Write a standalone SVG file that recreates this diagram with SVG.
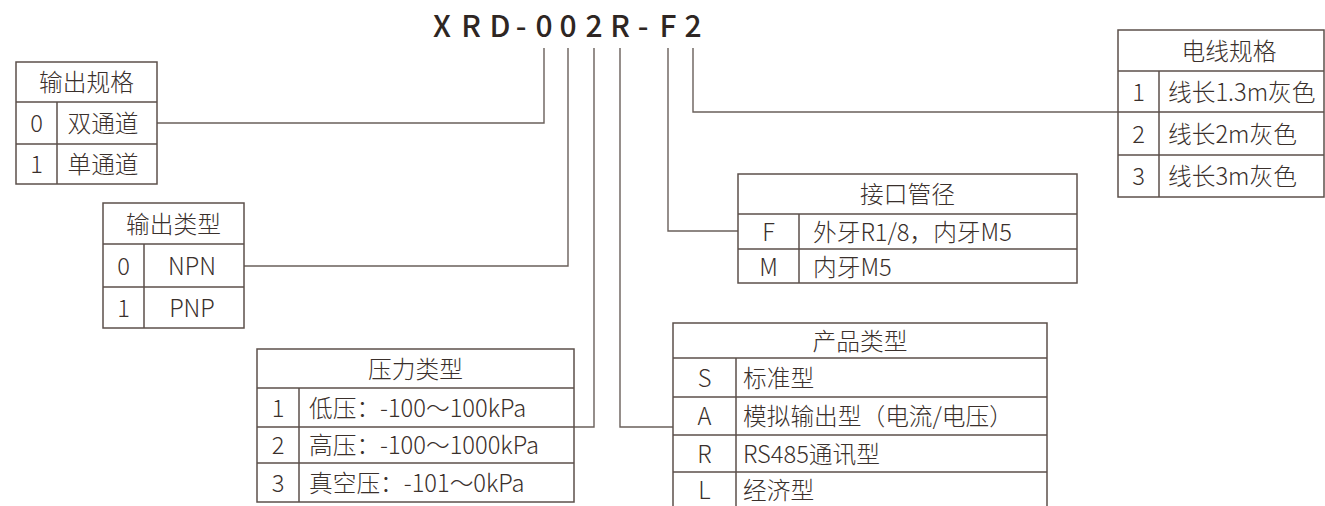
<svg xmlns="http://www.w3.org/2000/svg" width="1325" height="506" viewBox="0 0 1325 506">
<style>
.b{fill:none;stroke:#5c504b;stroke-width:1.5}
.c{fill:none;stroke:#6a605b;stroke-width:1.4}
.t{font-family:"Noto Sans CJK SC","Noto Sans",sans-serif;font-size:23.7px;font-weight:300;fill:#3a302c}
.m{text-anchor:middle}
.title{font-family:"Noto Sans CJK SC","Noto Sans",sans-serif;font-size:30px;font-weight:500;fill:#2e2623;text-anchor:middle}
</style>
<rect width="1325" height="506" fill="#ffffff"/>
<text class="title" x="442 471 500 521 544 568 594 620 643 668 693" y="37">XRD-002R-F2</text>
<g id="connectors">
<path class="c" d="M544 48V123H157"/>
<path class="c" d="M568 48V266H244"/>
<path class="c" d="M594 48V427H574"/>
<path class="c" d="M620 48V427H673"/>
<path class="c" d="M668 48V231H738"/>
<path class="c" d="M693 48V112H1118"/>
</g>
<g id="output-spec">
<rect class="b" x="16" y="62" width="141" height="122"/>
<path class="b" d="M16 102H157M16 144H157M57 102V184"/>
<text class="t m" x="86.5" y="91">输出规格</text>
<text class="t m" x="36.5" y="132">0</text>
<text class="t m" x="103" y="132">双通道</text>
<text class="t m" x="36.5" y="173">1</text>
<text class="t m" x="103" y="173">单通道</text>
</g>
<g id="output-type">
<rect class="b" x="103" y="203" width="141" height="125"/>
<path class="b" d="M103 244H244M103 287H244M144 244V328"/>
<text class="t m" x="173.5" y="232.5">输出类型</text>
<text class="t m" x="123.7" y="274.5">0</text>
<text class="t m" x="192" y="274.5">NPN</text>
<text class="t m" x="123.7" y="316.5">1</text>
<text class="t m" x="192" y="316.5">PNP</text>
</g>
<g id="pressure-type">
<rect class="b" x="257" y="349" width="317" height="153"/>
<path class="b" d="M257 388H574M257 427H574M257 463H574M299 388V502"/>
<text class="t m" x="415.5" y="377.5">压力类型</text>
<text class="t m" x="278" y="416.5">1</text>
<text class="t" x="309" y="416.5">低压：-100～100kPa</text>
<text class="t m" x="278" y="454">2</text>
<text class="t" x="309" y="454">高压：-100～1000kPa</text>
<text class="t m" x="278" y="491.5">3</text>
<text class="t" x="309" y="491.5">真空压：-101～0kPa</text>
</g>
<g id="product-type">
<path class="b" d="M673 507V323H1047V507M673 358H1047M673 397H1047M673 435H1047M673 472H1047M736 358V507"/>
<text class="t m" x="860" y="350">产品类型</text>
<text class="t m" x="704.5" y="387">S</text>
<text class="t" x="743" y="387">标准型</text>
<text class="t m" x="704.5" y="425">A</text>
<text class="t" x="743" y="425">模拟输出型（电流/电压）</text>
<text class="t m" x="704.5" y="462.5">R</text>
<text class="t" x="743" y="462.5">RS485通讯型</text>
<text class="t m" x="704.5" y="499">L</text>
<text class="t" x="743" y="499">经济型</text>
</g>
<g id="port-size">
<rect class="b" x="738" y="174" width="339" height="109"/>
<path class="b" d="M738 214H1077M738 249H1077M799 214V283"/>
<text class="t m" x="907.5" y="203">接口管径</text>
<text class="t m" x="768.5" y="241">F</text>
<text class="t" x="813" y="241">外牙R1/8，内牙M5</text>
<text class="t m" x="768.5" y="275.5">M</text>
<text class="t" x="813" y="275.5">内牙M5</text>
</g>
<g id="wire-spec">
<rect class="b" x="1118" y="30" width="206" height="167"/>
<path class="b" d="M1118 71H1324M1118 112H1324M1118 155H1324M1159 71V197"/>
<text class="t m" x="1229" y="59.5">电线规格</text>
<text class="t m" x="1138.5" y="101">1</text>
<text class="t" x="1168" y="101">线长1.3m灰色</text>
<text class="t m" x="1138.5" y="143">2</text>
<text class="t" x="1168" y="143">线长2m灰色</text>
<text class="t m" x="1138.5" y="185">3</text>
<text class="t" x="1168" y="185">线长3m灰色</text>
</g>
</svg>
